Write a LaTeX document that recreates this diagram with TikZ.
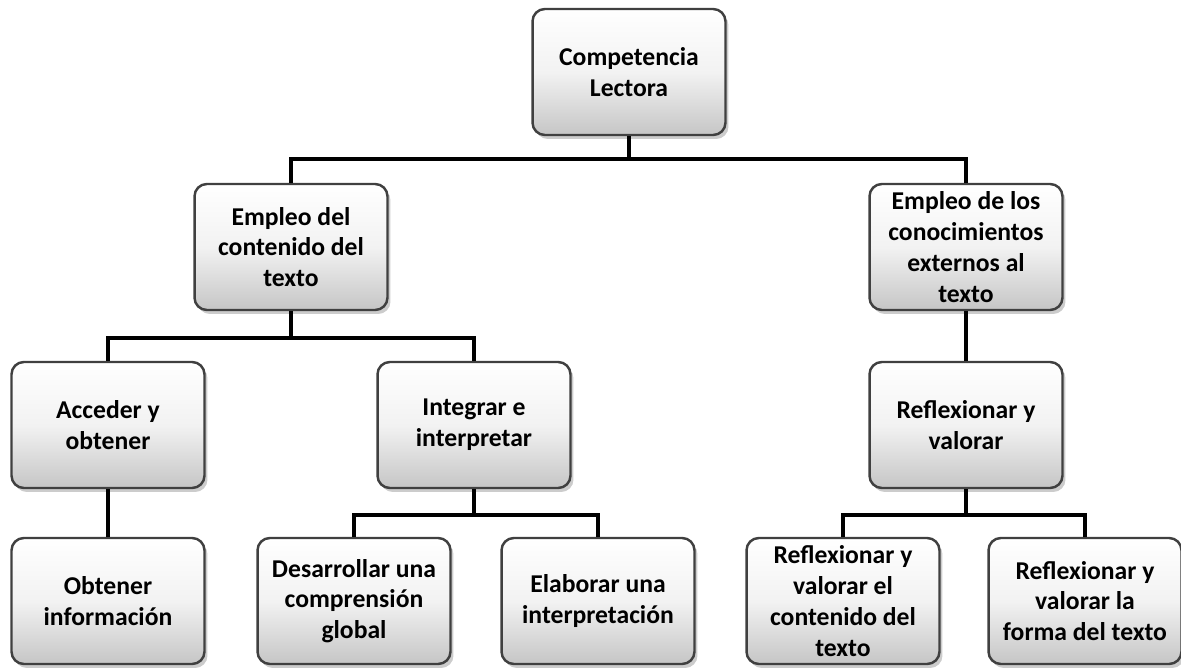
\documentclass[tikz,border=0pt]{standalone}
\usepackage{fontspec}
\setmainfont{Carlito}
\usetikzlibrary{positioning,shadows}
\tikzset{
  caja/.style={draw=black!75, line width=1.4pt, rounded corners=7pt,
    top color=white, bottom color=gray!45, middle color=gray!10,
    minimum width=3.86cm, minimum height=2.52cm, align=center,
    font=\fontsize{14.6}{17.5}\selectfont\bfseries,
    drop shadow={shadow xshift=0.6mm, shadow yshift=-0.8mm, fill=black!40}},
  rama/.style={line width=2.3pt, black}
}
\begin{document}
\begin{tikzpicture}[x=0.02cm,y=-0.02cm]
  \useasboundingbox (0,0) rectangle (1181,669);
  % nivel 0
  \node[caja] (comp) at (629,72) {Competencia\\Lectora};
  % nivel 1
  \node[caja] (cont) at (291,247) {Empleo del\\contenido del\\texto};
  \node[caja] (ext) at (966,247) {Empleo de los\\conocimientos\\externos al\\texto};
  % nivel 2
  \node[caja] (acc) at (108,425) {Acceder y\\obtener};
  \node[caja] (integ) at (474,425) {Integrar e\\interpretar};
  \node[caja] (refl) at (966,425) {Reflexionar y\\valorar};
  % nivel 3
  \node[caja] (obt) at (108,601) {Obtener\\informaci\'on};
  \node[caja] (des) at (354,601) {Desarrollar una\\comprensi\'on\\global};
  \node[caja] (elab) at (598,601) {Elaborar una\\interpretaci\'on};
  \node[caja] (rcont) at (843,601) {Reflexionar y\\valorar el\\contenido del\\texto};
  \node[caja] (rforma) at (1085,601) {Reflexionar y\\valorar la\\forma del texto};
  % conexiones
  \draw[rama] (comp.south) -- ++(0,23) -| (cont.north);
  \draw[rama] (comp.south) -- ++(0,23) -| (ext.north);
  \draw[rama] (cont.south) -- ++(0,27) -| (acc.north);
  \draw[rama] (cont.south) -- ++(0,27) -| (integ.north);
  \draw[rama] (ext.south) -- (refl.north);
  \draw[rama] (acc.south) -- (obt.north);
  \draw[rama] (integ.south) -- ++(0,26) -| (des.north);
  \draw[rama] (integ.south) -- ++(0,26) -| (elab.north);
  \draw[rama] (refl.south) -- ++(0,26) -| (rcont.north);
  \draw[rama] (refl.south) -- ++(0,26) -| (rforma.north);
\end{tikzpicture}
\end{document}
